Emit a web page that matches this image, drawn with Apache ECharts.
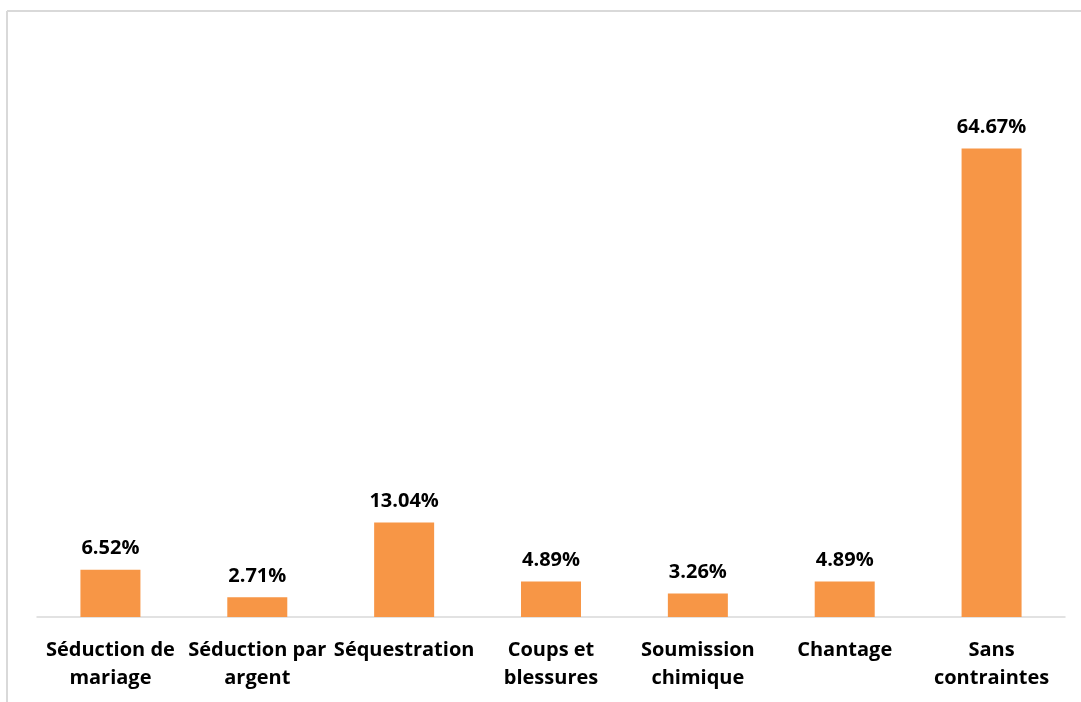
<!DOCTYPE html>
<html><head><meta charset="utf-8">
<script src="https://cdn.jsdelivr.net/npm/echarts@6/dist/echarts.min.js"></script>
<style>html,body{margin:0;padding:0;background:#fff}#c{width:1081px;height:702px}</style>
</head><body><div id="c"></div>
<script>
const categories = ["Séduction de\nmariage","Séduction par\nargent","Séquestration","Coups et\nblessures","Soumission\nchimique","Chantage","Sans\ncontraintes"];
const values = [6.52, 2.71, 13.04, 4.89, 3.26, 4.89, 64.67];
const chart = echarts.init(document.getElementById('c'));
chart.setOption({
  animation:false,
  graphic:[
    {type:'line',shape:{x1:7,y1:11,x2:1081,y2:11},style:{stroke:'#d9d9d9',lineWidth:2}},
    {type:'line',shape:{x1:7,y1:11,x2:7,y2:702},style:{stroke:'#d9d9d9',lineWidth:2}}
  ],
  grid:{left:37,right:16,top:110,bottom:85},
  xAxis:{type:'category',data:categories,
    axisLine:{lineStyle:{color:'#d9d9d9',width:1.5}},axisTick:{show:false},
    axisLabel:{interval:0,margin:19,color:'#000',fontFamily:'Open Sans',fontWeight:'bold',fontSize:20,lineHeight:28}},
  yAxis:{type:'value',min:0,max:70,show:false,splitLine:{show:false}},
  series:[{type:'bar',data:values,barWidth:60,itemStyle:{color:'#F79646'},
    label:{show:true,position:'top',distance:11,color:'#000',fontFamily:'Open Sans',fontWeight:'bold',fontSize:20,
      formatter:p=>p.value.toFixed(2)+'%'}}]
});
</script></body></html>
